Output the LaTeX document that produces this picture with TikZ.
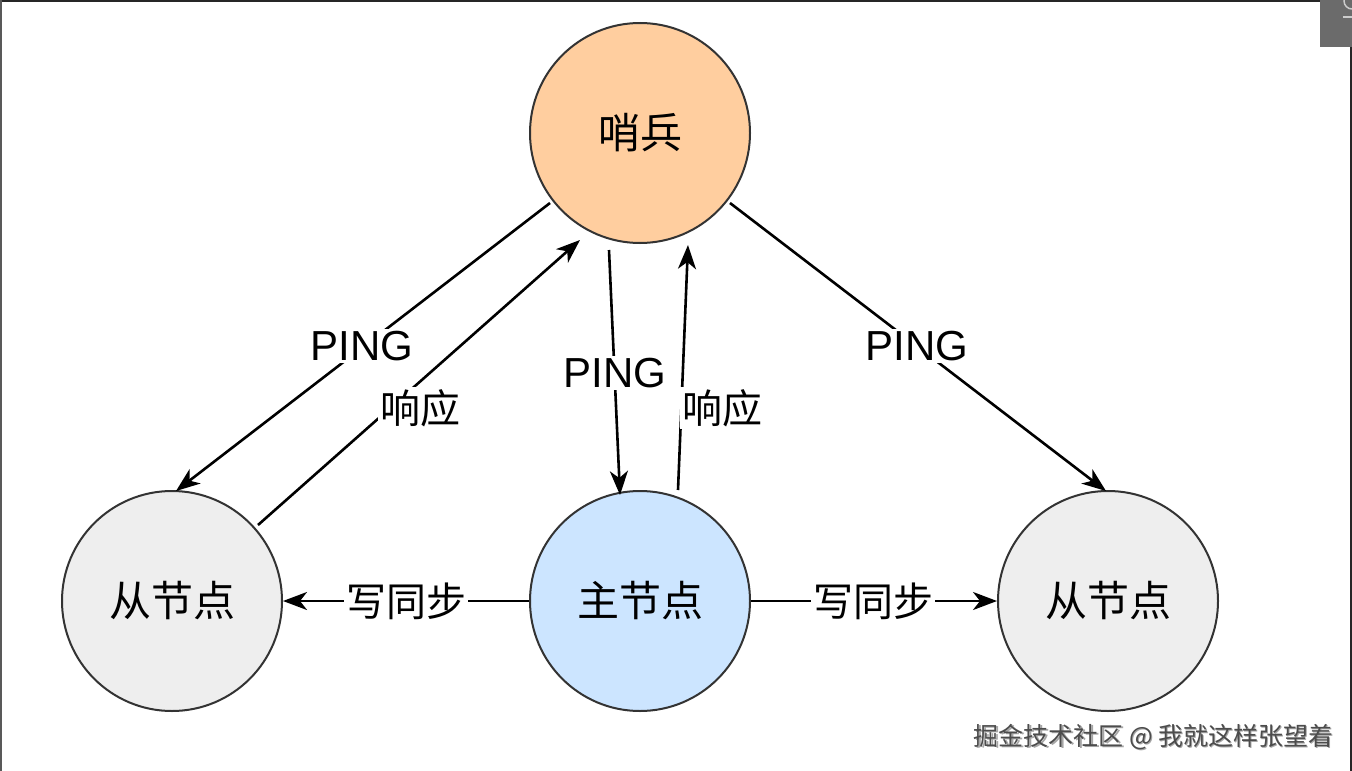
\documentclass[tikz,border=0pt]{standalone}
\usepackage{fontspec}
\setmainfont{Liberation Sans}
\newfontfamily\cjk{Noto Sans CJK SC}
\usetikzlibrary{arrows.meta}
\definecolor{sentfill}{HTML}{FFCE9F}
\definecolor{masterfill}{HTML}{CCE5FF}
\definecolor{slavefill}{HTML}{EEEEEE}
\definecolor{edge}{HTML}{333333}
\begin{document}
\begin{tikzpicture}[x=1pt,y=-1pt,
  circ/.style={circle,draw=edge,line width=2pt,minimum size=220pt,inner sep=0pt,font=\cjk\fontsize{42}{42}\selectfont},
  conn/.style={line width=2.6pt,-{Stealth[length=24pt,width=18pt,inset=7pt]}},
  lbl/.style={fill=white,inner sep=2pt,font=\fontsize{42}{42}\selectfont},
  clbl/.style={fill=white,inner sep=2pt,font=\cjk\fontsize{40}{40}\selectfont}]
\useasboundingbox (0,0) rectangle (1352,771);
\fill[white] (0,0) rectangle (1352,771);
% screenshot frame
\draw[line width=2pt,color=black!85] (0,1) -- (1320,1);
\draw[line width=2pt,color=black!65] (1,0) -- (1,771);
\draw[line width=2pt,color=black!85] (1351,47) -- (1351,771);
\fill[black!58] (1320,0) rectangle (1352,47);
\draw[line width=1.5pt,color=black!20] (1352,9) arc[start angle=90,end angle=270,radius=8];
\draw[line width=1.5pt,color=black!20] (1343,17) -- (1352,17);
% nodes
\node[circ,fill=sentfill] (s) at (640,133) {哨兵};
\node[circ,fill=masterfill] (m) at (640,601) {主节点};
\node[circ,fill=slavefill] (l) at (172,601) {从节点};
\node[circ,fill=slavefill] (r) at (1108,601) {从节点};
% coordinates for connector ends
\coordinate (s1) at (550,203);
\coordinate (l1) at (176,491);
\coordinate (l2) at (258,525);
\coordinate (s2) at (580,240);
\coordinate (s3) at (609,250);
\coordinate (m1) at (620,495);
\coordinate (m2) at (678,490);
\coordinate (s4) at (688,245);
\coordinate (s5) at (730,203);
\coordinate (r1) at (1106,491);
% connectors
\draw[conn] (s1) -- (l1);
\draw[conn] (l2) -- (s2);
\draw[conn] (s3) -- (m1);
\draw[conn] (m2) -- (s4);
\draw[conn] (s5) -- (r1);
\draw[conn] (m.west) -- (l.east);
\draw[conn] (m.east) -- (r.west);
% labels
\node[lbl] (p1) at (362,346) {PING};
\node[clbl] (a1) at (420,408) {响应};
\node[lbl] (p2) at (615,373) {PING};
\node[clbl] (a2) at (722,408) {响应};
\node[lbl] (p3) at (917,346) {PING};
\node[clbl] (w1) at (406,601) {写同步};
\node[clbl] (w2) at (873,601) {写同步};
% watermark
\node[font=\cjk\fontsize{25}{25}\selectfont,text=black!35,anchor=west] (wm0) at (971.5,738.5) {掘金技术社区 @ 我就这样张望着};
\node[font=\cjk\fontsize{25}{25}\selectfont,text=black!70,anchor=west] (wm) at (970,737) {掘金技术社区 @ 我就这样张望着};
\end{tikzpicture}
\end{document}
